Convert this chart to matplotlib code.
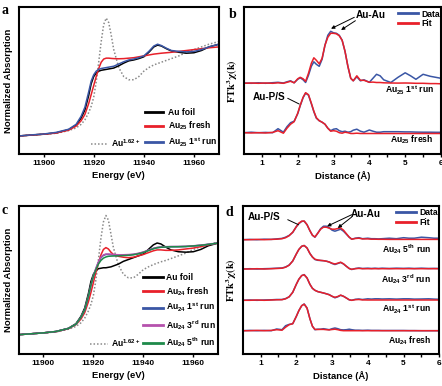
import matplotlib
matplotlib.use("Agg")
import matplotlib.pyplot as plt
from matplotlib.lines import Line2D

plt.rcParams['font.family'] = ['Liberation Sans', 'DejaVu Sans']
plt.rcParams['font.weight'] = 'bold'
plt.rcParams['mathtext.fontset'] = 'custom'
plt.rcParams['mathtext.rm'] = 'Liberation Sans:bold'
plt.rcParams['mathtext.it'] = 'Liberation Sans:italic:bold'
plt.rcParams['mathtext.bf'] = 'Liberation Sans:bold'
plt.rcParams['mathtext.sf'] = 'Liberation Sans:bold'
plt.rcParams['mathtext.default'] = 'rm'

# ---------------- XANES data (panels a, c) ----------------
energy = [11890, 11895, 11900, 11905, 11910, 11913, 11915, 11916.5, 11918, 11919,
          11920, 11921, 11922, 11923, 11924, 11925, 11926, 11927, 11928, 11930,
          11932, 11934, 11936, 11938, 11940, 11942, 11944, 11945.5, 11947, 11949,
          11951, 11954, 11957, 11960, 11963, 11966, 11970]

a_foil = [0.00, 0.01, 0.02, 0.035, 0.07, 0.12, 0.20, 0.29, 0.45, 0.58,
          0.66, 0.70, 0.72, 0.73, 0.735, 0.74, 0.745, 0.75, 0.755, 0.78,
          0.81, 0.835, 0.845, 0.86, 0.88, 0.93, 0.99, 1.01, 1.00, 0.97,
          0.945, 0.93, 0.92, 0.925, 0.95, 0.99, 1.02]
a_fresh = [0.00, 0.01, 0.02, 0.033, 0.065, 0.11, 0.17, 0.24, 0.36, 0.46,
           0.56, 0.66, 0.75, 0.82, 0.855, 0.865, 0.865, 0.862, 0.86, 0.858,
           0.86, 0.865, 0.87, 0.88, 0.89, 0.90, 0.91, 0.915, 0.92, 0.925,
           0.93, 0.94, 0.95, 0.96, 0.97, 0.98, 0.99]
a_run1 = [0.00, 0.012, 0.022, 0.04, 0.075, 0.13, 0.22, 0.32, 0.49, 0.61,
          0.68, 0.72, 0.74, 0.75, 0.755, 0.76, 0.765, 0.77, 0.775, 0.80,
          0.825, 0.845, 0.855, 0.87, 0.89, 0.94, 1.00, 1.02, 1.005, 0.975,
          0.95, 0.94, 0.935, 0.94, 0.96, 0.99, 1.02]
a_ref = [0.00, 0.01, 0.02, 0.03, 0.06, 0.09, 0.13, 0.18, 0.26, 0.33,
         0.43, 0.60, 0.82, 1.05, 1.24, 1.31, 1.26, 1.12, 0.96, 0.76,
         0.66, 0.625, 0.625, 0.66, 0.72, 0.76, 0.79, 0.805, 0.82, 0.84,
         0.86, 0.89, 0.93, 0.96, 0.99, 1.02, 1.05]

c_foil = [0.00, 0.01, 0.02, 0.035, 0.07, 0.12, 0.20, 0.29, 0.45, 0.58,
          0.66, 0.70, 0.72, 0.725, 0.73, 0.73, 0.735, 0.74, 0.75, 0.77,
          0.80, 0.82, 0.84, 0.86, 0.88, 0.93, 0.98, 1.00, 0.99, 0.955,
          0.925, 0.905, 0.90, 0.905, 0.93, 0.97, 1.00]
c_fresh = [0.00, 0.01, 0.02, 0.033, 0.065, 0.11, 0.17, 0.24, 0.36, 0.46,
           0.57, 0.68, 0.78, 0.87, 0.93, 0.95, 0.935, 0.90, 0.875, 0.855,
           0.845, 0.84, 0.845, 0.86, 0.875, 0.895, 0.915, 0.925, 0.925, 0.92,
           0.92, 0.925, 0.935, 0.945, 0.96, 0.98, 1.00]
c_run1 = [0.00, 0.01, 0.02, 0.035, 0.068, 0.115, 0.19, 0.27, 0.42, 0.54,
          0.64, 0.72, 0.79, 0.84, 0.865, 0.875, 0.875, 0.873, 0.87, 0.868,
          0.868, 0.87, 0.875, 0.885, 0.90, 0.92, 0.94, 0.95, 0.955, 0.958,
          0.96, 0.96, 0.962, 0.968, 0.975, 0.985, 1.00]
c_run3 = [0.00, 0.01, 0.02, 0.035, 0.068, 0.115, 0.19, 0.27, 0.42, 0.54,
          0.645, 0.725, 0.795, 0.845, 0.87, 0.88, 0.88, 0.878, 0.875, 0.872,
          0.872, 0.874, 0.878, 0.888, 0.902, 0.922, 0.942, 0.952, 0.957, 0.96,
          0.962, 0.962, 0.964, 0.97, 0.977, 0.987, 1.00]
c_run5 = [0.00, 0.01, 0.02, 0.035, 0.068, 0.115, 0.19, 0.27, 0.42, 0.54,
          0.64, 0.71, 0.77, 0.81, 0.835, 0.848, 0.855, 0.857, 0.858, 0.86,
          0.863, 0.866, 0.872, 0.882, 0.897, 0.917, 0.937, 0.948, 0.953, 0.957,
          0.959, 0.96, 0.962, 0.968, 0.975, 0.985, 1.00]
c_ref = [0.00, 0.01, 0.02, 0.03, 0.06, 0.09, 0.13, 0.18, 0.26, 0.33,
         0.43, 0.60, 0.82, 1.05, 1.23, 1.30, 1.25, 1.10, 0.95, 0.76,
         0.66, 0.62, 0.62, 0.66, 0.71, 0.74, 0.765, 0.78, 0.795, 0.81,
         0.83, 0.86, 0.89, 0.93, 0.96, 0.985, 1.01]

# ---------------- EXAFS data (panels b, d) ----------------
distance = [0.5, 0.7, 0.9, 1.1, 1.3, 1.45, 1.6, 1.7, 1.8, 1.9, 2.0, 2.07, 2.15, 2.22,
            2.3, 2.38, 2.45, 2.52, 2.6, 2.68, 2.76, 2.84, 2.92, 3.0, 3.08, 3.16,
            3.24, 3.32, 3.4, 3.48, 3.55, 3.65, 3.75, 3.85, 4.0, 4.1, 4.2, 4.3,
            4.4, 4.6, 4.8, 5.0, 5.15, 5.3, 5.5, 5.7, 5.85, 6.0]

b_run1_data = [0.3, 0.0, 0.5, 0.0, 0.6, 1.0, 0.3, 1.5, 2.5, 0.5, 4.0, 5.5, 3.5, 0.8,
               8, 17, 21.5, 19, 17, 24, 38, 48, 52, 50.5, 50, 48,
               43, 32, 17, 5, 2.5, 6.5, 2.5, 3.5, 1.0, 5.0, 9.0, 7.5,
               3.5, 0.8, 6.0, 10.5, 7.5, 4.0, 9.0, 7.0, 6.0, 5.0]
b_run1_fit = [0.0, 0.3, 0.0, 0.3, 0.0, 0.5, 0.0, 1.0, 2.0, 0.5, 4.5, 6.0, 4.5, 2.0,
              10, 20, 25.5, 23, 19.5, 25, 38, 46, 50, 50, 49.5, 47.5,
              43, 32, 17, 5, 2.5, 7.5, 3.0, 3.0, 1.0, 1.2, 0.8, 0.8,
              0.5, 0.3, 0.2, 0.3, 0.2, 0.0, 0.0, -0.3, -0.3, -0.5]
b_fresh_data = [0.0, 0.5, 0.0, 0.3, 0.0, 4.0, 0.5, 6.0, 10, 11.5, 19, 27, 35, 39.5,
                37.5, 29, 21, 14.5, 12, 10.5, 8.5, 4.5, 2.0, 3.5, 4.0, 2.0,
                1.0, 1.5, 0.5, 1.0, 2.5, 3.5, 1.5, 0.5, 2.7, 1.5, 0.5, 0.5,
                1.0, 1.0, 1.0, 0.8, 0.8, 0.6, 0.5, 0.5, 0.4, 0.4]
b_fresh_fit = [0.0, -0.3, 0.0, -0.3, 0.3, 2.0, -0.5, 4.5, 8.5, 11, 19.5, 27.5, 35.5, 40,
               38, 29.5, 21.5, 15, 12, 10.5, 8.5, 4.5, 1.5, 2.0, 1.5, 0.0,
               -0.5, 0.5, 0.0, -0.8, -0.8, -0.5, -0.8, -0.8, -0.8, -0.8, -0.8, -0.8,
               -0.8, -0.8, -0.8, -0.8, -0.8, -0.8, -0.8, -0.8, -0.8, -0.8]
b_offsets = [70.7, 21.3]
b_labels = ['Au$_{25}$ 1$^{st}$ run', 'Au$_{25}$ fresh']

d_run5_data = [0.0, 0.3, 0.0, 0.5, 0.3, 0.8, 1.3, 2.5, 4.3, 7.3, 13, 16, 18.3, 18.5,
               15, 9, 4.5, 2.5, 6.5, 11, 13.5, 13.5, 12, 9.5, 8.5, 9.5,
               10.5, 8.5, 5.5, 2.5, 0.5, 1.5, 2.0, 1.0, 1.5, 1.0, 1.0, 0.8,
               1.0, 1.5, 1.0, 2.0, 1.5, 1.5, 2.5, 2.0, 1.5, 1.5]
d_run5_fit = [0.0, 0.0, 0.3, 0.0, 0.3, 0.5, 1.0, 2.0, 4.0, 7.5, 13, 16.5, 18.5, 18.7,
              15, 9, 4.5, 2.7, 6.5, 10.5, 12.5, 12.5, 11.5, 10.5, 10.5, 11.2,
              11.7, 9.5, 6.0, 2.5, 0.5, 1.2, 1.5, 0.8, 0.8, 0.5, 0.5, 0.4,
              0.4, 0.3, 0.3, 0.3, 0.3, 0.3, 0.3, 0.3, 0.3, 0.3]
d_run3_data = [0.0, 0.3, 0.0, 0.3, 0.5, 0.8, 1.0, 2.0, 4.0, 8, 15, 19.5, 22.7, 23.5,
               21, 15.5, 12, 9.5, 8.7, 8.5, 8.3, 7.8, 7.0, 5.5, 4.5, 5.5,
               6.5, 5.0, 2.7, 0.5, -0.5, 0.5, 1.0, 0.5, 0.8, 0.5, 0.8, 0.5,
               0.8, 0.5, 0.8, 0.6, 0.8, 0.5, 0.8, 0.5, 0.6, 0.5]
d_run3_fit = [0.0, 0.0, 0.3, 0.0, 0.3, 0.5, 0.8, 1.8, 3.8, 8, 15, 19.5, 22.7, 23.5,
              21, 15.5, 12, 9.8, 9.0, 8.6, 8.3, 7.8, 7.0, 5.8, 5.0, 5.8,
              6.8, 5.2, 2.7, 0.5, -0.3, 0.3, 0.6, 0.3, 0.3, 0.3, 0.3, 0.3,
              0.3, 0.3, 0.3, 0.3, 0.3, 0.3, 0.3, 0.3, 0.3, 0.3]
d_run1_data = [0.0, 0.3, 0.0, 0.3, 0.5, 0.8, 0.8, 1.7, 3.5, 8, 16, 21, 24.7, 25.7,
               22.3, 16, 12, 10, 8.7, 8.0, 7.3, 6.5, 5.7, 4.0, 2.5, 3.5,
               5.0, 4.0, 2.3, 0.5, 0.0, 1.0, 1.3, 0.8, 1.5, 1.2, 1.5, 1.5,
               1.3, 1.5, 1.2, 1.5, 1.5, 1.2, 1.3, 1.5, 1.2, 1.0]
d_run1_fit = [0.0, 0.0, 0.3, 0.0, 0.3, 0.5, 0.6, 1.5, 3.5, 8, 16, 21, 24.7, 25.5,
              22.3, 16, 12, 10, 8.7, 8.0, 7.3, 6.5, 5.5, 4.0, 3.0, 3.8,
              5.2, 4.0, 2.3, 0.5, 0.0, 0.6, 0.8, 0.4, 0.3, 0.3, 0.3, 0.3,
              0.3, 0.3, 0.3, 0.3, 0.3, 0.3, 0.3, 0.3, 0.3, 0.3]
d_fresh_data = [0.0, 0.3, 0.0, 0.3, 0.0, 1.7, 1.0, 5.0, 6.3, 7.0, 14.3, 20, 25, 26.7,
                22.7, 12, 4.5, 1.0, 1.5, 1.5, 2.0, 1.5, 1.0, 2.0, 2.7, 2.0,
                1.0, 0.8, 1.0, 1.5, 1.0, 0.5, 0.5, 0.3, 0.5, 0.3, 0.3, 0.3,
                0.2, 0.2, 0.2, 0.2, 0.1, 0.1, 0.0, 0.0, 0.0, 0.0]
d_fresh_fit = [0.0, 0.0, 0.3, 0.0, 0.3, 1.0, 0.5, 3.5, 6.0, 7.0, 14.3, 20, 25, 26.5,
               22.5, 12, 4.5, 1.3, 1.2, 1.3, 1.3, 1.0, 0.8, 1.2, 1.5, 1.0,
               0.3, 0.0, 0.0, 0.0, 0.0, 0.0, 0.0, 0.0, 0.0, 0.0, 0.0, 0.0,
               0.0, 0.0, 0.0, 0.0, 0.0, 0.0, 0.0, 0.0, 0.0, 0.0]
d_offsets = [114.0, 84.7, 53.4, 23.0]
d_labels = ['Au$_{24}$ 5$^{th}$ run', 'Au$_{24}$ 3$^{rd}$ run',
            'Au$_{24}$ 1$^{st}$ run', 'Au$_{24}$ fresh']

energy_ticks = [11900, 11920, 11940, 11960]
dist_ticks = [1, 2, 3, 4, 5, 6]

BLACK = '#000000'
RED = '#e8202a'
BLUE = '#3a56a5'
PURPLE = '#b552ad'
GREEN = '#1e8a4a'
GREY = '#8a8a8a'

W, H = 442, 386
fig = plt.figure(figsize=(W / 100, H / 100), dpi=100)


def box(x0, x1, top, bottom):
    return [x0 / W, 1 - bottom / H, (x1 - x0) / W, (bottom - top) / H]


ax_a = fig.add_axes(box(18.5, 219, 7.3, 154))
ax_b = fig.add_axes(box(244, 441, 7.3, 154))
ax_c = fig.add_axes(box(18.5, 218.3, 205.7, 353.5))
ax_d = fig.add_axes(box(242.7, 439.3, 205.7, 353.7))

TICK_FS = 6
LABEL_FS = 6.8
LEG_FS = 6.2


def style(ax):
    for s in ax.spines.values():
        s.set_linewidth(1.5)
    ax.set_yticks([])
    ax.tick_params(axis='x', direction='out', length=2.5, width=1.0,
                   labelsize=TICK_FS, pad=2)
    for t in ax.get_xticklabels():
        t.set_fontweight('bold')


lw = 1.1
DOT = (0, (1.0, 1.3))

# ---- panel a ----
ax = ax_a
ax.plot(energy, a_ref, color=GREY, lw=1.1, ls=DOT)
ax.plot(energy, a_foil, color=BLACK, lw=lw)
ax.plot(energy, a_fresh, color=RED, lw=lw)
ax.plot(energy, a_run1, color=BLUE, lw=lw)
ax.set_xlim(11890, 11970)
ax.set_ylim(-0.2, 1.43)
ax.set_xticks(energy_ticks)
style(ax)
ax.set_xlabel('Energy (eV)', fontsize=LABEL_FS, fontweight='bold', labelpad=3)
ax.set_ylabel('Normalized Absorption', fontsize=LABEL_FS, fontweight='bold', labelpad=4)
h = [Line2D([], [], color=BLACK, lw=2), Line2D([], [], color=RED, lw=2),
     Line2D([], [], color=BLUE, lw=2)]
leg = ax.legend(h, ['Au foil', 'Au$_{25}$ fresh', 'Au$_{25}$ 1$^{st}$ run'],
                loc='lower right', bbox_to_anchor=(0.99, 0.035), frameon=False,
                fontsize=LEG_FS, handlelength=2.2, handletextpad=0.5,
                labelspacing=0.38, borderpad=0, borderaxespad=0)
ax.add_artist(leg)
ax.legend([Line2D([], [], color=GREY, lw=1.1, ls=DOT)], ['Au$^{1.62+}$'],
          loc='lower left', bbox_to_anchor=(0.36, 0.035), frameon=False,
          fontsize=LEG_FS, handlelength=2.0, handletextpad=0.4,
          borderpad=0, borderaxespad=0)

# ---- panel c ----
ax = ax_c
ax.plot(energy, c_ref, color=GREY, lw=1.1, ls=DOT)
ax.plot(energy, c_foil, color=BLACK, lw=lw)
ax.plot(energy, c_fresh, color=RED, lw=lw)
ax.plot(energy, c_run1, color=BLUE, lw=lw)
ax.plot(energy, c_run3, color=PURPLE, lw=lw)
ax.plot(energy, c_run5, color=GREEN, lw=lw)
ax.set_xlim(11890, 11970)
ax.set_ylim(-0.205, 1.407)
ax.set_xticks(energy_ticks)
style(ax)
ax.set_xlabel('Energy (eV)', fontsize=LABEL_FS, fontweight='bold', labelpad=3)
ax.set_ylabel('Normalized Absorption', fontsize=LABEL_FS, fontweight='bold', labelpad=4)
h = [Line2D([], [], color=c, lw=2) for c in (BLACK, RED, BLUE, PURPLE, GREEN)]
leg = ax.legend(h, ['Au foil', 'Au$_{24}$ fresh', 'Au$_{24}$ 1$^{st}$ run',
                    'Au$_{24}$ 3$^{rd}$ run', 'Au$_{24}$ 5$^{th}$ run'],
                loc='lower right', bbox_to_anchor=(0.99, 0.03), frameon=False,
                fontsize=LEG_FS, handlelength=2.3, handletextpad=0.4,
                labelspacing=0.4, borderpad=0, borderaxespad=0)
ax.add_artist(leg)
ax.legend([Line2D([], [], color=GREY, lw=1.1, ls=DOT)], ['Au$^{1.62+}$'],
          loc='lower left', bbox_to_anchor=(0.36, 0.03), frameon=False,
          fontsize=LEG_FS, handlelength=2.0, handletextpad=0.4,
          borderpad=0, borderaxespad=0)

# ---- panel b ----
ax = ax_b
ax.plot(distance, [v + b_offsets[0] for v in b_run1_data], color=BLUE, lw=lw)
ax.plot(distance, [v + b_offsets[0] for v in b_run1_fit], color=RED, lw=lw)
ax.plot(distance, [v + b_offsets[1] for v in b_fresh_data], color=BLUE, lw=lw)
ax.plot(distance, [v + b_offsets[1] for v in b_fresh_fit], color=RED, lw=lw)
ax.set_xlim(0.5, 6)
ax.set_ylim(0, 146.7)
ax.set_xticks(dist_ticks)
ax.set_xticks([1.5, 2.5, 3.5, 4.5, 5.5], minor=True)
ax.tick_params(axis='x', which='minor', direction='out', length=2.0, width=1.0)
style(ax)
ax.set_xlabel('Distance (Å)', fontsize=LABEL_FS, fontweight='bold', labelpad=3)
ax.set_ylabel(r'FT$k^3\chi(k)$', fontsize=7.5, fontweight='bold',
              family='Liberation Serif', math_fontfamily='stix', labelpad=3)
for off, lab in zip(b_offsets, b_labels):
    ax.text(5.8, off - 7.5, lab, fontsize=LEG_FS, fontweight='bold',
            ha='right', va='center')
ax.text(4.05, 139, 'Au-Au', fontsize=7.2, fontweight='bold', ha='center', va='center')
ax.annotate('', xy=(2.93, 125.3), xytext=(3.58, 136.7),
            arrowprops=dict(arrowstyle='-|>', color='black', lw=0.7,
                            mutation_scale=5, shrinkA=0, shrinkB=0))
ax.annotate('', xy=(3.21, 124), xytext=(3.61, 133.3),
            arrowprops=dict(arrowstyle='-|>', color='black', lw=0.7,
                            mutation_scale=5, shrinkA=0, shrinkB=0))
ax.text(1.21, 56.7, 'Au-P/S', fontsize=7.2, fontweight='bold', ha='center', va='center')
ax.annotate('', xy=(2.04, 50), xytext=(1.72, 55.7),
            arrowprops=dict(arrowstyle='-', color='black', lw=0.7,
                            shrinkA=0, shrinkB=0))
ax.legend([Line2D([], [], color=BLUE, lw=2), Line2D([], [], color=RED, lw=2)],
          ['Data', 'Fit'], loc='upper right', bbox_to_anchor=(0.995, 0.985),
          frameon=False, fontsize=LEG_FS, handlelength=2.3, handletextpad=0.4,
          labelspacing=0.1, borderpad=0, borderaxespad=0)

# ---- panel d ----
ax = ax_d
pairs = [(d_run5_data, d_run5_fit), (d_run3_data, d_run3_fit),
         (d_run1_data, d_run1_fit), (d_fresh_data, d_fresh_fit)]
for off, (dd, ff) in zip(d_offsets, pairs):
    ax.plot(distance, [v + off for v in dd], color=BLUE, lw=lw)
    ax.plot(distance, [v + off for v in ff], color=RED, lw=lw)
ax.set_xlim(0.5, 6)
ax.set_ylim(0, 148)
ax.set_xticks(dist_ticks)
ax.set_xticks([1.5, 2.5, 3.5, 4.5, 5.5], minor=True)
ax.tick_params(axis='x', which='minor', direction='out', length=2.0, width=1.0)
style(ax)
ax.set_xlabel('Distance (Å)', fontsize=LABEL_FS, fontweight='bold', labelpad=3)
ax.set_ylabel(r'FT$k^3\chi(k)$', fontsize=7.5, fontweight='bold',
              family='Liberation Serif', math_fontfamily='stix', labelpad=3)
for off, lab in zip(d_offsets, d_labels):
    ax.text(5.77, off - 9.6, lab, fontsize=LEG_FS, fontweight='bold',
            ha='right', va='center')
ax.text(3.95, 140, 'Au-Au', fontsize=7.2, fontweight='bold', ha='center', va='center')
ax.annotate('', xy=(2.86, 127.4), xytext=(3.55, 139),
            arrowprops=dict(arrowstyle='-|>', color='black', lw=0.7,
                            mutation_scale=5, shrinkA=0, shrinkB=0))
ax.annotate('', xy=(3.16, 125.7), xytext=(3.55, 136.7),
            arrowprops=dict(arrowstyle='-|>', color='black', lw=0.7,
                            mutation_scale=5, shrinkA=0, shrinkB=0))
ax.text(1.09, 136.7, 'Au-P/S', fontsize=7.2, fontweight='bold', ha='center', va='center')
ax.annotate('', xy=(2.06, 129), xytext=(1.76, 134),
            arrowprops=dict(arrowstyle='-', color='black', lw=0.7,
                            shrinkA=0, shrinkB=0))
ax.legend([Line2D([], [], color=BLUE, lw=2), Line2D([], [], color=RED, lw=2)],
          ['Data', 'Fit'], loc='upper right', bbox_to_anchor=(0.995, 0.985),
          frameon=False, fontsize=LEG_FS, handlelength=2.3, handletextpad=0.4,
          labelspacing=0.1, borderpad=0, borderaxespad=0)

# panel letters
for lab, (px, py) in zip(['a', 'b', 'c', 'd'], [(2, 11), (229, 14), (2, 210), (226, 213)]):
    fig.text(px / W, 1 - py / H, lab, fontsize=10, fontweight='bold',
             family='Liberation Serif', ha='left', va='center')

fig.savefig('out.png', dpi=100)
